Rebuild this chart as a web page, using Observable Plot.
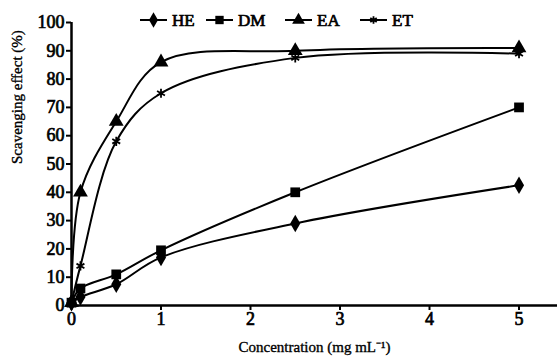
<!DOCTYPE html>
<html>
<head>
<meta charset="utf-8">
<script src="https://cdn.jsdelivr.net/npm/d3@7"></script>
<script src="https://cdn.jsdelivr.net/npm/@observablehq/plot@0.6"></script>
<style>
  html, body { margin: 0; padding: 0; background: #fff; }
  #wrap { position: relative; width: 557px; height: 362px; }
  #wrap svg text { font-family: "Liberation Serif", "Times New Roman", serif !important; }
  #legend { position: absolute; left: 0; top: 0; pointer-events: none; }
  .fb text, text.fb { stroke: #000; stroke-width: 0.7px; }
  .ft text, text.ft { stroke: #000; stroke-width: 0.35px; }
</style>
</head>
<body>
<div id="wrap"></div>
<script>
const concentrations = [0, 0.1, 0.5, 1, 2.5, 5];
const seriesNames = ["HE", "DM", "EA", "ET"];
const heValues = [1, 3, 7.5, 17, 29, 42.5];
const dmValues = [1, 6, 11, 19.5, 40, 70];
const eaValues = [1, 40, 65, 86, 90, 91];
const etValues = [1, 14, 58, 75, 87.5, 89];
const xTicks = [0, 1, 2, 3, 4, 5];
const yTicks = [0, 10, 20, 30, 40, 50, 60, 70, 80, 90, 100];

const valuesBySeries = {HE: heValues, DM: dmValues, EA: eaValues, ET: etValues};
const rows = seriesNames.flatMap(s => concentrations.map((c, i) => ({series: s, x: c, y: valuesBySeries[s][i]})));
const of = s => rows.filter(d => d.series === s);

const font = "Liberation Serif, Times New Roman, serif";

const chart = Plot.plot({
  width: 557,
  height: 362,
  marginLeft: 71,
  marginRight: 0,
  marginTop: 22,
  marginBottom: 57,
  style: {fontFamily: font, background: "#fff", color: "#000"},
  x: {domain: [0, 5.43], label: null},
  y: {domain: [0, 100], label: null},
  marks: [
    Plot.axisX({ticks: xTicks, tickSize: 5, tickPadding: 2, tickFormat: d3.format("d"), fontSize: 18, strokeWidth: 2, className: "fb"}),
    Plot.axisY({ticks: yTicks, tickSize: 5, tickPadding: 2, tickFormat: d3.format("d"), fontSize: 18, strokeWidth: 2, className: "fb"}),
    Plot.ruleY([0], {stroke: "#000", strokeWidth: 2.5}),
    Plot.ruleX([0], {stroke: "#000", strokeWidth: 2.5}),
    Plot.line(rows, {x: "x", y: "y", z: "series", curve: "catmull-rom", stroke: "#000", strokeWidth: 2}),
    Plot.dot(of("HE"), {x: "x", y: "y", symbol: "diamond", r: 5.3, fill: "#000"}),
    Plot.dot(of("DM"), {x: "x", y: "y", symbol: "square", r: 5.5, fill: "#000"}),
    Plot.dot(of("EA"), {x: "x", y: "y", symbol: "triangle", r: 5.5, fill: "#000"}),
    Plot.dot(of("ET"), {x: "x", y: "y", symbol: "asterisk", r: 4.3, stroke: "#000", strokeWidth: 1.8}),
    Plot.text(["Concentration (mg mL\u207B\u00B9)"], {frameAnchor: "bottom", dy: 46, fontSize: 15, fill: "#000", className: "ft"}),
    Plot.text(["Scavenging effect (%)"], {frameAnchor: "left", dx: -54, rotate: -90, fontSize: 15, fill: "#000", className: "ft"})
  ]
});
document.getElementById("wrap").appendChild(chart);

// legend overlay
const legendX = [140, 206, 285, 360];
const legendY = 20;
const leg = d3.select("#wrap").append("svg")
  .attr("id", "legend").attr("width", 557).attr("height", 40);
seriesNames.forEach((s, i) => {
  const x0 = legendX[i];
  const g = leg.append("g");
  g.append("line").attr("x1", x0).attr("x2", x0 + 27).attr("y1", legendY).attr("y2", legendY)
    .attr("stroke", "#000").attr("stroke-width", 2);
  const sym = {HE: d3.symbolDiamond, DM: d3.symbolSquare, EA: d3.symbolTriangle, ET: d3.symbolAsterisk}[s];
  const size = s === "ET" ? 40 : 70;
  const p = g.append("path").attr("d", d3.symbol(sym, size)()).attr("transform", `translate(${x0 + 13.5},${legendY})`);
  if (s === "ET") p.attr("fill", "none").attr("stroke", "#000").attr("stroke-width", 1.8);
  else p.attr("fill", "#000");
  g.append("text").attr("class", "fb").attr("x", x0 + 32).attr("y", legendY + 6).text(s)
    .attr("font-size", 17).attr("fill", "#000");
});
</script>
</body>
</html>
